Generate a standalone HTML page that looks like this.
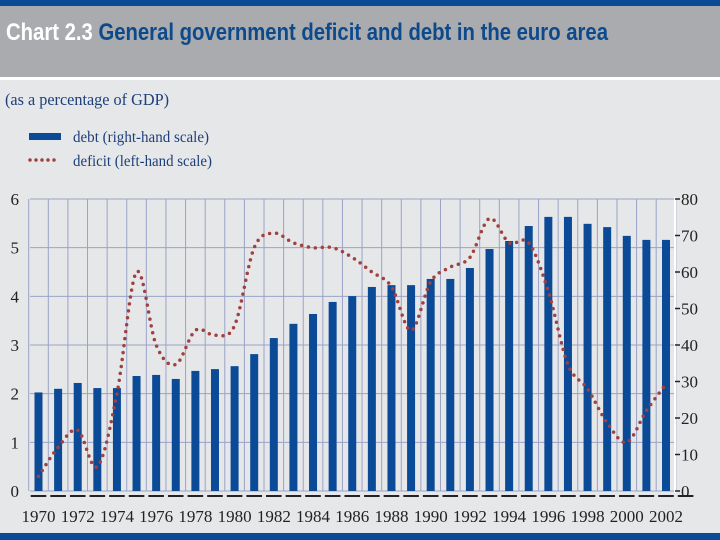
<!DOCTYPE html>
<html><head><meta charset="utf-8"><style>
html,body{margin:0;padding:0;background:#e6e7e9;}
svg{display:block;}
text{font-family:"Liberation Serif",serif;}
</style></head><body>
<svg id="c" width="720" height="540" viewBox="0 0 720 540">
<rect x="0" y="0" width="720" height="540" fill="#e6e7e9"/>
<rect x="0" y="0" width="720" height="6" fill="#0b4a96"/>
<rect x="0" y="6" width="720" height="71" fill="#a9abae"/>
<rect x="0" y="77" width="720" height="3" fill="#ffffff"/>
<text x="6" y="40" font-family="Liberation Sans, sans-serif" font-weight="bold" font-size="24" textLength="602" lengthAdjust="spacingAndGlyphs"><tspan fill="#ffffff" style="font-family:'Liberation Sans',sans-serif">Chart 2.3 </tspan><tspan fill="#0d4a8c" style="font-family:'Liberation Sans',sans-serif">General government deficit and debt in the euro area</tspan></text>
<text x="5" y="105" font-size="17" fill="#1d3f7a" textLength="164" lengthAdjust="spacingAndGlyphs">(as a percentage of GDP)</text>
<rect x="29" y="133" width="32" height="7" fill="#0b4a96"/>
<text x="73" y="142" font-size="16" fill="#1d3f7a" textLength="136" lengthAdjust="spacingAndGlyphs">debt (right-hand scale)</text>
<line x1="30" y1="160" x2="60" y2="160" stroke="#a0403f" stroke-width="3.5" stroke-linecap="round" stroke-dasharray="0 6"/>
<text x="73" y="166" font-size="16" fill="#1d3f7a" textLength="139" lengthAdjust="spacingAndGlyphs">deficit (left-hand scale)</text>
<g id="plot"></g>
<rect x="0" y="533" width="720" height="7" fill="#0b4a96"/>
</svg>
<script>
const years=[1970,1971,1972,1973,1974,1975,1976,1977,1978,1979,1980,1981,1982,1983,1984,1985,1986,1987,1988,1989,1990,1991,1992,1993,1994,1995,1996,1997,1998,1999,2000,2001,2002];
const debt=[27,28,29.6,28.2,28.2,31.5,31.8,30.7,32.9,33.4,34.2,37.5,41.9,45.8,48.5,51.8,53.4,55.9,56.4,56.4,58.1,58.1,61.1,66.3,68.5,72.6,75.1,75.1,73.2,72.3,69.9,68.8,68.8];
const deficit=[0.3,0.9,1.25,0.5,2.0,4.5,3.0,2.6,3.3,3.2,3.4,5.0,5.3,5.1,5.0,5.0,4.8,4.5,4.2,3.3,4.3,4.6,4.8,5.6,5.1,5.1,4.1,2.6,2.1,1.4,1.0,1.65,2.2];
const leftTicks=[0,1,2,3,4,5,6];
const rightTicks=[0,10,20,30,40,50,60,70,80];
const NS="http://www.w3.org/2000/svg";
const g=document.getElementById('plot');
const L=30,R=675,T=199,B=491;
const x0=38.5,x1=666;
const xs=y=>x0+(y-years[0])*(x1-x0)/(years[years.length-1]-years[0]);
const yl=v=>B-v*(B-T)/6;
const yr=v=>B-v*(B-T)/80;
function mk(t,a){const e=document.createElementNS(NS,t);for(const k in a)e.setAttribute(k,a[k]);g.appendChild(e);return e;}
const step=(x1-x0)/(years.length-1);
// grid
for(const t of leftTicks){
 const e=mk('line',{x1:L,x2:R,y1:yl(t),y2:yl(t),stroke:'#9aa3c8','stroke-width':1});
 
 
 const tx=mk('text',{x:19,y:yl(t)+6,'font-size':17,fill:'#222','text-anchor':'end'});
 tx.textContent=t;
 
 
}
for(let i=0;i<=years.length;i++){
 const x=x0-step/2+i*step;
 const e=mk('line',{x1:x,x2:x,y1:T,y2:B,stroke:'#9aa3c8','stroke-width':1});
 
 
 const tk=mk('line',{x1:x+2,x2:x+step-2,y1:496,y2:496,stroke:'#222','stroke-width':2});
 
 
}
const ax=mk('line',{x1:R,x2:R,y1:T-2,y2:B+2,stroke:'#ffffff','stroke-width':2});


for(const t of rightTicks){
 const tk=mk('line',{x1:R,x2:R+5,y1:yr(t),y2:yr(t),stroke:'#222','stroke-width':1.5});
 
 
 const tx=mk('text',{x:R+6,y:yr(t)+6,'font-size':17,fill:'#222'});
 tx.textContent=t;
 
 
}
// bars
years.forEach((y,i)=>{
 const b=mk('rect',{x:xs(y)-4,y:yr(debt[i]),width:8,height:B-yr(debt[i]),fill:'#0b4a96'});
 
 
 if(i%2===0){
  const tx=mk('text',{x:xs(y),y:522,'font-size':17,fill:'#222','text-anchor':'middle'});
  tx.textContent=y;
  
  
 }
});
// deficit line (catmull-rom)
const P=years.map((y,i)=>[xs(y),yl(deficit[i])]);
let d='M'+P[0][0]+','+P[0][1];
for(let i=0;i<P.length-1;i++){
 const p0=P[Math.max(i-1,0)],p1=P[i],p2=P[i+1],p3=P[Math.min(i+2,P.length-1)];
 const c1=[p1[0]+(p2[0]-p0[0])/6,p1[1]+(p2[1]-p0[1])/6];
 const c2=[p2[0]-(p3[0]-p1[0])/6,p2[1]-(p3[1]-p1[1])/6];
 d+=' C'+c1[0]+','+c1[1]+' '+c2[0]+','+c2[1]+' '+p2[0]+','+p2[1];
}
const ln=mk('path',{d:d,fill:'none',stroke:'#a0403f','stroke-width':3.5,'stroke-linecap':'round','stroke-dasharray':'0 7'});


</script>
</body></html>
